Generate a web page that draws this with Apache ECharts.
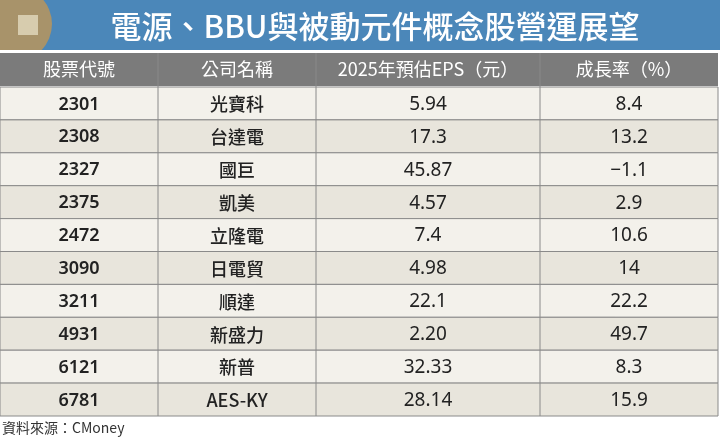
<!DOCTYPE html>
<html>
<head><meta charset="utf-8"></head>
<body style="margin:0">
<div id="main" style="width:720px;height:438px"></div>
<script src="https://cdn.jsdelivr.net/npm/echarts@6/dist/echarts.min.js"></script>
<script>
var headers = ['股票代號', '公司名稱', '2025年預估EPS（元）', '成長率（%）'];
var codes = ['2301', '2308', '2327', '2375', '2472', '3090', '3211', '4931', '6121', '6781'];
var names = ['光寶科', '台達電', '國巨', '凱美', '立隆電', '日電貿', '順達', '新盛力', '新普', 'AES-KY'];
var eps = ['5.94', '17.3', '45.87', '4.57', '7.4', '4.98', '22.1', '2.20', '32.33', '28.14'];
var growth = ['8.4', '13.2', '−1.1', '2.9', '10.6', '14', '22.2', '49.7', '8.3', '15.9'];

var chart = echarts.init(document.getElementById('main'));
var colX = [0, 158, 316, 540, 718];
var headTop = 53, headH = 33, rowTop = 87, rowH = 32.9;
var cjk = '"Noto Sans CJK TC", sans-serif';
var num = '"Noto Sans", "Noto Sans CJK TC", sans-serif';
var els = [];

els.push({ type: 'rect', shape: { x: 0, y: 0, width: 720, height: 50 }, style: { fill: '#4b87b9' } });
els.push({ type: 'circle', shape: { cx: 14, cy: 24, r: 38 }, style: { fill: '#a8936a' },
  clipPath: { type: 'rect', shape: { x: 0, y: 0, width: 720, height: 50 } } });
els.push({ type: 'rect', shape: { x: 18, y: 15, width: 20, height: 20 }, style: { fill: '#d7ccae' } });
els.push({ type: 'text', x: 375, y: 26, style: { text: '電源、BBU與被動元件概念股營運展望', font: '500 31px ' + cjk,
  fill: '#ffffff', align: 'center', verticalAlign: 'middle' } });

els.push({ type: 'rect', shape: { x: 0, y: headTop, width: 718, height: headH }, style: { fill: '#7b7b7b' } });
headers.forEach(function (h, i) {
  els.push({ type: 'text', x: (colX[i] + colX[i + 1]) / 2, y: headTop + headH / 2,
    style: { text: h, font: '18px ' + cjk, fill: '#ffffff', align: 'center', verticalAlign: 'middle' } });
});

codes.forEach(function (c, r) {
  var y = rowTop + r * rowH;
  els.push({ type: 'rect', shape: { x: 0, y: y, width: 718, height: rowH },
    style: { fill: r % 2 ? '#e8e5dc' : '#f3f1eb', stroke: '#8a8a8a', lineWidth: 1 } });
  var cells = [c, names[r], eps[r], growth[r]];
  cells.forEach(function (t, i) {
    els.push({ type: 'text', x: (colX[i] + colX[i + 1]) / 2, y: y + rowH / 2 + 1,
      style: { text: t, font: (i === 0 ? '600 18px ' + num : i === 1 ? '500 18px ' + cjk : '19px ' + num),
        fill: '#222222', align: 'center', verticalAlign: 'middle' } });
  });
});
for (var i = 1; i < 4; i++) {
  els.push({ type: 'line', shape: { x1: colX[i], y1: headTop, x2: colX[i], y2: rowTop + 10 * rowH },
    style: { stroke: '#8a8a8a', lineWidth: 1 } });
}
els.push({ type: 'text', x: 2, y: 428, style: { text: '資料來源：CMoney', font: '14px ' + cjk,
  fill: '#333333', verticalAlign: 'middle' } });

chart.setOption({ backgroundColor: '#ffffff', graphic: els });
</script>
</body>
</html>
